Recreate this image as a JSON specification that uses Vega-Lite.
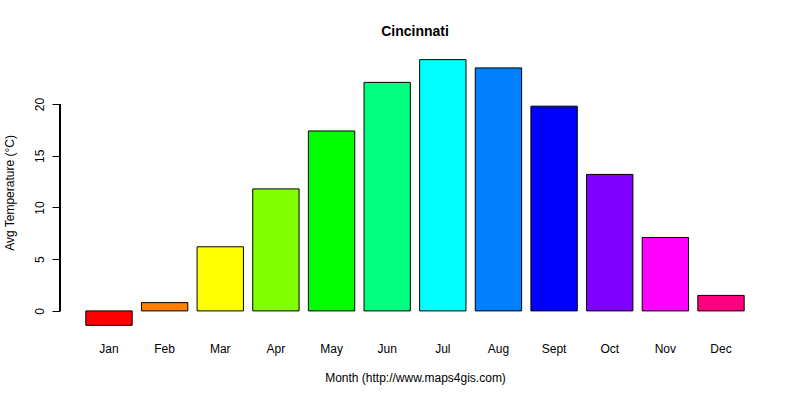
{
  "$schema": "https://vega.github.io/schema/vega-lite/v6.json",
  "background": "white",
  "autosize": {"type": "none"},
  "padding": {"left": 60, "top": 49, "right": 30, "bottom": 64},
  "width": 710,
  "height": 287,
  "title": {
    "text": "Cincinnati",
    "fontSize": 14,
    "fontWeight": "bold",
    "font": "Liberation Sans",
    "color": "black",
    "anchor": "middle",
    "offset": 10
  },
  "data": {
    "values": [
      {"Month": "Jan", "Temp": -1.4},
      {"Month": "Feb", "Temp": 0.8},
      {"Month": "Mar", "Temp": 6.2},
      {"Month": "Apr", "Temp": 11.8},
      {"Month": "May", "Temp": 17.4},
      {"Month": "Jun", "Temp": 22.1},
      {"Month": "Jul", "Temp": 24.3},
      {"Month": "Aug", "Temp": 23.5},
      {"Month": "Sept", "Temp": 19.8},
      {"Month": "Oct", "Temp": 13.2},
      {"Month": "Nov", "Temp": 7.1},
      {"Month": "Dec", "Temp": 1.5}
    ]
  },
  "layer": [
    {
      "mark": {"type": "bar", "stroke": "black", "strokeWidth": 1},
      "encoding": {
        "x": {
          "field": "Month",
          "type": "nominal",
          "sort": null,
          "scale": {"paddingInner": 0.1667, "paddingOuter": 0.464},
          "axis": {
            "title": "Month (http://www.maps4gis.com)",
            "labelAngle": 0,
            "ticks": false,
            "domain": false,
            "labelPadding": 7,
            "labelBaseline": "top",
            "titlePadding": 18
          }
        },
        "y": {
          "field": "Temp",
          "type": "quantitative",
          "scale": {"domain": [-2.428, 25.328], "nice": false, "zero": false},
          "axis": {
            "title": "Avg Temperature (°C)",
            "values": [0, 5, 10, 15, 20],
            "grid": false,
            "domain": false,
            "tickSize": 8,
            "labelAngle": -90,
            "labelAlign": "center",
            "labelBaseline": "bottom",
            "labelPadding": 6,
            "titlePadding": 17
          }
        },
        "color": {
          "field": "Month",
          "type": "nominal",
          "sort": null,
          "scale": {
            "domain": ["Jan", "Feb", "Mar", "Apr", "May", "Jun", "Jul", "Aug", "Sept", "Oct", "Nov", "Dec"],
            "range": ["#FF0000", "#FF8000", "#FFFF00", "#80FF00", "#00FF00", "#00FF80", "#00FFFF", "#0080FF", "#0000FF", "#8000FF", "#FF00FF", "#FF0080"]
          },
          "legend": null
        }
      }
    },
    {
      "mark": {"type": "rule", "color": "black", "strokeWidth": 1},
      "encoding": {
        "x": {"datum": "Jan", "type": "nominal", "bandPosition": -0.556},
        "y": {"datum": 0, "type": "quantitative"},
        "y2": {"datum": 20}
      }
    }
  ],
  "config": {
    "view": {"stroke": null},
    "font": "Liberation Sans",
    "axis": {
      "labelFont": "Liberation Sans",
      "titleFont": "Liberation Sans",
      "labelFontSize": 12,
      "titleFontSize": 12,
      "titleFontWeight": "normal",
      "labelColor": "black",
      "titleColor": "black",
      "tickColor": "black",
      "domainColor": "black"
    }
  }
}
